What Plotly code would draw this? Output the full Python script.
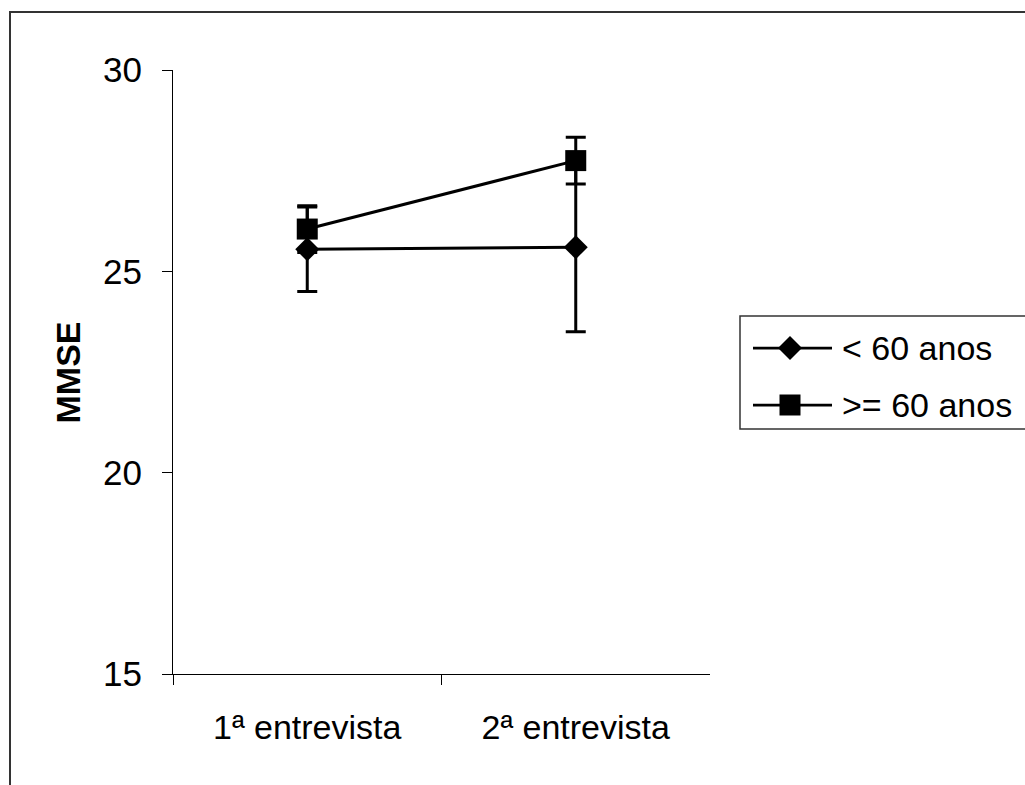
import plotly.graph_objects as go

# MMSE scores at the two interviews, by age group (mean ± SD)
categories = ["1ª entrevista", "2ª entrevista"]
series_names = ["< 60 anos", ">= 60 anos"]
under60_mean = [25.55, 25.6]
under60_sd = [1.05, 2.1]
over60_mean = [26.05, 27.75]
over60_sd = [0.58, 0.58]
y_ticks = [15, 20, 25, 30]

W, H = 1025, 785
FONT = "Arial, Liberation Sans, sans-serif"
FS = 34


def px_x(v):
    return v / W


def px_y(v):
    return 1 - v / H


# plot area in pixels
PL, PR, PT, PB = 173, 710, 70, 674
# key box in pixels
KL, KT, KB = 740, 316, 429
KEY_LINE = [753, 832]
KEY_MARK = 790
KEY_TEXT = 840
KEY_ROWS = [348, 405]

fig = go.Figure()

styles = [
    dict(symbol="diamond", size=18.5),
    dict(symbol="square", size=21),
]
means = [under60_mean, over60_mean]
sds = [under60_sd, over60_sd]

for name, m, sd, st in zip(series_names, means, sds, styles):
    fig.add_trace(go.Scatter(
        x=categories, y=m, name=name, mode="lines+markers",
        line=dict(color="black", width=3),
        marker=dict(symbol=st["symbol"], size=st["size"], color="black",
                    line=dict(width=0)),
        error_y=dict(type="data", array=sd, visible=True, color="black",
                     thickness=3, width=10),
        xaxis="x", yaxis="y", showlegend=False,
    ))

# key entries drawn on their own small axis pair
for name, st, row in zip(series_names, styles, KEY_ROWS):
    fig.add_trace(go.Scatter(
        x=KEY_LINE, y=[row, row], mode="lines",
        line=dict(color="black", width=2.75),
        xaxis="x2", yaxis="y2", showlegend=False, hoverinfo="skip",
    ))
    fig.add_trace(go.Scatter(
        x=[KEY_MARK], y=[row], mode="markers",
        marker=dict(symbol=st["symbol"], size=st["size"], color="black",
                    line=dict(width=0)),
        xaxis="x2", yaxis="y2", showlegend=False, hoverinfo="skip",
    ))
    fig.add_annotation(
        x=KEY_TEXT, y=row, xref="x2", yref="y2", text=name,
        showarrow=False, xanchor="left", yanchor="middle",
        font=dict(family=FONT, size=FS, color="black"),
    )

fig.update_layout(
    width=W, height=H,
    margin=dict(l=0, r=0, t=0, b=0),
    paper_bgcolor="white", plot_bgcolor="white",
    font=dict(family=FONT, size=FS, color="black"),
    xaxis=dict(
        domain=[px_x(PL), px_x(PR)],
        type="category", range=[-0.5, 1.5],
        tickson="boundaries", ticks="outside", ticklen=10, tickwidth=1,
        tickcolor="black", showline=True, linecolor="black", linewidth=1,
        showgrid=False, zeroline=False, ticklabelstandoff=23,
        tickfont=dict(family=FONT, size=FS), automargin=False,
    ),
    yaxis=dict(
        domain=[px_y(PB), px_y(PT)],
        range=[15, 30], tickvals=y_ticks,
        ticks="outside", ticklen=10, tickwidth=1, tickcolor="black",
        showline=True, linecolor="black", linewidth=1,
        showgrid=False, zeroline=False, ticklabelstandoff=13,
        tickfont=dict(family=FONT, size=35), automargin=False,
    ),
    xaxis2=dict(domain=[px_x(KL), 1], range=[KL, W], visible=False,
                anchor="y2", fixedrange=True),
    yaxis2=dict(domain=[px_y(KB), px_y(KT)], range=[KB, KT], visible=False,
                anchor="x2", fixedrange=True),
    annotations=list(fig.layout.annotations) + [
        dict(x=px_x(67.5), y=px_y(373), xref="paper", yref="paper",
             text="<b>MMSE</b>", textangle=-90, showarrow=False,
             xanchor="center", yanchor="middle",
             font=dict(family=FONT, size=FS, color="black")),
    ],
    shapes=[
        # outer chart frame
        dict(type="rect", xref="paper", yref="paper",
             x0=px_x(10), x1=1.02, y0=-0.02, y1=px_y(12),
             line=dict(color="#333333", width=2), layer="below"),
        # key box
        dict(type="rect", xref="paper", yref="paper",
             x0=px_x(KL), x1=1.02, y0=px_y(KB), y1=px_y(KT),
             line=dict(color="#333333", width=1.5), layer="below"),
    ],
)

fig.write_html("out.html")
